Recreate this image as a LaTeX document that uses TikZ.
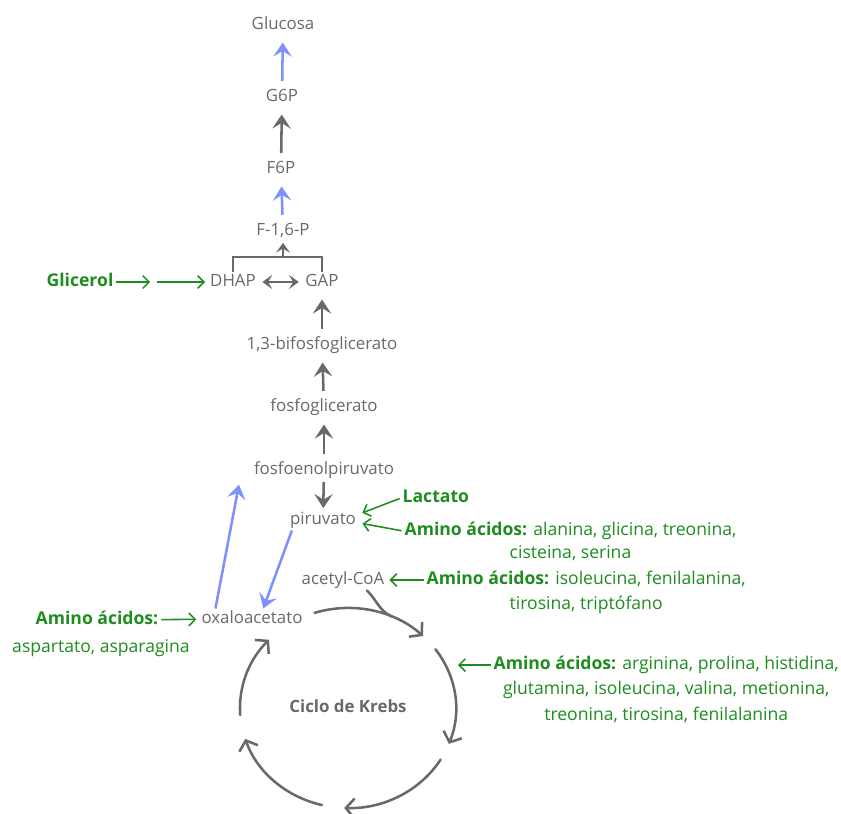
\documentclass[tikz,border=0pt]{standalone}
\usepackage{fontspec}
\setmainfont{Open Sans}
\usetikzlibrary{arrows.meta,calc,positioning}

\definecolor{metgray}{RGB}{105,105,105}
\definecolor{metgreen}{RGB}{30,140,30}
\definecolor{metblue}{RGB}{125,145,250}

\begin{document}
\begin{tikzpicture}[x=0.025cm, y=0.025cm, font=\fontsize{12}{14}\selectfont,
    met/.style={text=metgray, inner sep=1.5pt, text height=8.8pt, text depth=2.7pt},
    src/.style={text=metgreen, inner sep=1pt, text height=9pt, text depth=2.7pt,
      font=\fontsize{12.5}{14}\selectfont},
    bsrc/.style={src, font=\fontsize{12.5}{14}\selectfont\bfseries},
    flow/.style={draw=metgray, line width=1.8pt, shorten <=4pt, shorten >=5pt,
      -{Stealth[length=10pt,width=13pt,inset=4pt]}},
    bypass/.style={flow, draw=metblue},
    feed/.style={draw=metgreen, line width=1.1pt, shorten <=1pt, shorten >=2pt,
      -{Straight Barb[length=4.5pt,width=9pt]}},
    cyc/.style={draw=metgray, line width=1.8pt, line cap=round,
      -{Straight Barb[length=6pt,width=14pt]}}]
  \useasboundingbox (0,0) rectangle (841,-814);

  % main chain, piruvato up to glucosa
  \node[met] (glc) at (283,-25) {Glucosa};
  \node[met] (g6p) at (282,-97) {G6P};
  \node[met] (f6p) at (281,-169) {F6P};
  \node[met] (f16p) at (283,-231) {F-1,6-P};
  \node[met] (dhap) at (233,-282) {DHAP};
  \node[met] (gap) at (322,-282) {GAP};
  \node[met] (bpg) at (322,-345) {1,3-bifosfoglicerato};
  \node[met] (pg) at (324,-407) {fosfoglicerato};
  \node[met] (pep) at (324,-470) {fosfoenolpiruvato};
  \node[met] (piru) at (323,-520) {piruvato};
  \node[met] (acoa) at (343,-580) {acetyl-CoA};
  \node[met] (oxa) at (252,-619) {oxaloacetato};

  \draw[bypass] (g6p) -- (glc);
  \draw[flow] (f6p) -- (g6p);
  \draw[bypass] (f16p) -- (f6p);
  \coordinate (fork) at (283,-257);
  \draw[metgray, line width=1.8pt] (dhap.north) -- (dhap.north |- fork) -| (gap.north);
  \draw[flow, shorten <=0pt, shorten >=1pt, -{Stealth[length=7pt,width=10pt,inset=3pt]}] (fork) -- (f16p);
  \draw[metgray, line width=1.4pt, shorten <=3pt, shorten >=3pt,
    {Stealth[length=7pt,width=10pt,inset=3pt]}-{Stealth[length=7pt,width=10pt,inset=3pt]}] (dhap) -- (gap);
  \draw[flow] (bpg) -- (gap);
  \draw[flow] (pg) -- (bpg);
  \draw[flow] (pep) -- (pg);
  \draw[flow, shorten <=1pt, shorten >=1pt] (pep) -- (piru);

  % bypass over oxaloacetato
  \draw[bypass, shorten <=0pt, shorten >=0pt] ([xshift=3pt]piru.south west) -- ([xshift=8pt]oxa.north);
  \draw[bypass, shorten <=0pt, shorten >=0pt] ([xshift=-26pt]oxa.north) -- ([xshift=-9pt,yshift=-3pt]pep.south west);

  % ciclo de Krebs
  \node[met, font=\fontsize{12}{14}\selectfont\bfseries] (krebs) at (348,-708) {Ciclo de Krebs};
  \draw[cyc] ($(krebs)+(108:2.7cm and 2.5cm)$) arc[start angle=108, end angle=46, x radius=2.7cm, y radius=2.5cm];
  \draw[cyc] ($(krebs)+(36:2.7cm and 2.5cm)$) arc[start angle=36, end angle=-21, x radius=2.7cm, y radius=2.5cm];
  \draw[cyc] ($(krebs)+(-31:2.7cm and 2.5cm)$) arc[start angle=-31, end angle=-92, x radius=2.7cm, y radius=2.5cm];
  \draw[cyc] ($(krebs)+(-104:2.7cm and 2.5cm)$) arc[start angle=-104, end angle=-162, x radius=2.7cm, y radius=2.5cm];
  \draw[cyc] ($(krebs)+(184:2.7cm and 2.5cm)$) arc[start angle=184, end angle=137, x radius=2.7cm, y radius=2.5cm];
  \draw[metgray, line width=1.8pt, line cap=round] ([xshift=-14pt]acoa.south east)
    to[out=-45, in=155] ($(krebs)+(66:2.7cm and 2.5cm)$);

  % entradas
  \node[bsrc] (glic) at (80,-282) {Glicerol};
  \coordinate (glm) at (153,-282);
  \draw[feed] (glic) -- (glm);
  \draw[feed, shorten <=3pt] (glm) -- (dhap);

  \node[bsrc, anchor=west] (lac) at (401,-498) {Lactato};
  \node[src, anchor=west] (aa1) at (403,-531) {\textbf{Amino ácidos:} alanina, glicina, treonina,};
  \node[src, below=2.5pt of aa1] (aa1b) {cisteina, serina};
  \draw[feed, shorten >=3pt] (lac.west) -- ([yshift=4pt]piru.east);
  \draw[feed, shorten >=3pt] (aa1.west) -- ([yshift=-2pt]piru.east);

  \node[src, anchor=west] (aa2) at (425,-580) {\textbf{Amino ácidos:} isoleucina, fenilalanina,};
  \node[src, below=4pt of aa2] (aa2b) {tirosina, triptófano};
  \draw[feed] (aa2.west) -- (acoa.east);

  \node[src, anchor=west] (aa3) at (492,-665) {\textbf{Amino ácidos:} arginina, prolina, histidina,};
  \node[src, below=4pt of aa3] (aa3b) {glutamina, isoleucina, valina, metionina,};
  \node[src, below=4pt of aa3b] (aa3c) {treonina, tirosina, fenilalanina};
  \coordinate (krebsin) at (458,-665);
  \draw[feed, shorten >=0pt] (aa3.west) -- (krebsin);

  \node[bsrc] (aa4) at (97,-620) {Amino ácidos:};
  \node[src] (aa4b) at (101,-648) {aspartato, asparagina};
  \draw[feed] (aa4) -- (oxa);
\end{tikzpicture}
\end{document}
